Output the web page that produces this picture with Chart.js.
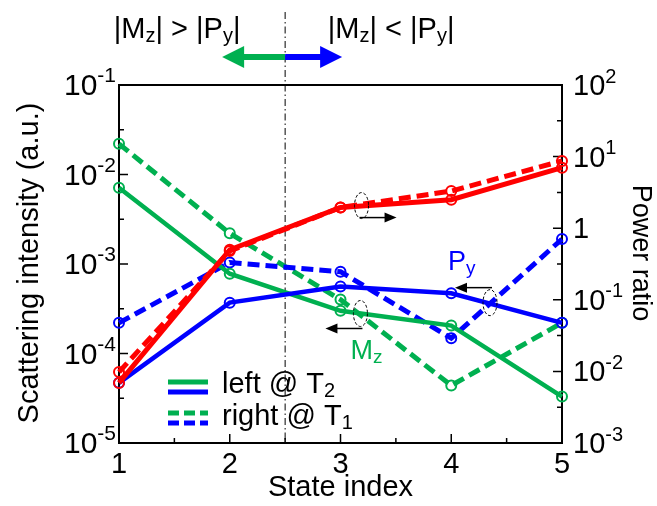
<!DOCTYPE html>
<html>
<head>
<meta charset="utf-8">
<script src="https://cdn.jsdelivr.net/npm/chart.js@4.4.1/dist/chart.umd.min.js"></script>
<style>
  html, body { margin: 0; padding: 0; background: #fff; }
  #chart { display: block; }
</style>
</head>
<body>
<canvas id="chart" width="657" height="506"></canvas>
<script>
// Datos
const stateIndex = [1, 2, 3, 4, 5];
// eje izquierdo: Scattering intensity (a.u.)
const mzLeft  = [7.1e-3, 7.8e-4, 3.0e-4, 2.05e-4, 3.3e-5];   // verde, línea continua (left @ T2)
const mzRight = [2.2e-2, 2.2e-3, 4.0e-4, 4.4e-5, 2.2e-4];    // verde, discontinua (right @ T1)
const pyLeft  = [4.7e-5, 3.7e-4, 5.6e-4, 4.7e-4, 2.2e-4];    // azul, continua
const pyRight = [2.2e-4, 1.04e-3, 8.2e-4, 1.48e-4, 1.9e-3];  // azul, discontinua
// eje derecho: Power ratio
const ratioLeft  = [6.9e-3, 0.5, 1.95, 2.5, 7.0];            // rojo, continua
const ratioRight = [9.8e-3, 0.48, 1.95, 3.3, 8.7];           // rojo, discontinua
// etiquetas de los ejes
const leftExps  = [-1, -2, -3, -4, -5];
const rightExps = [2, 1, 0, -1, -2, -3];
const xTicks = [1, 2, 3, 4, 5];

const FONT = '"Liberation Sans", Arial, sans-serif';
const GREEN = '#00b050';
const BLUE = '#0000ff';
const RED = '#ff0000';

function pts(arr) {
    return stateIndex.map((x, i) => ({ x: x, y: arr[i] }));
}

function series(arr, color, dashed, axis, width) {
    return {
        data: pts(arr),
        yAxisID: axis,
        borderColor: color,
        backgroundColor: 'rgba(0,0,0,0)',
        borderWidth: width,
        borderDash: dashed ? [12, 6] : [],
        pointRadius: 5,
        pointBorderWidth: 2,
        pointBorderColor: color,
        pointBackgroundColor: 'rgba(0,0,0,0)',
        tension: 0,
        clip: false
    };
}

// texto con subíndices / superíndices
function drawRich(ctx, parts, x, y, size, align, color) {
    const fontFor = mode => (mode ? Math.round(size * 0.7) : size) + 'px ' + FONT;
    let total = 0;
    parts.forEach(p => {
        ctx.font = fontFor(p[1]);
        total += ctx.measureText(p[0]).width;
    });
    let cx = x;
    if (align === 'center') cx = x - total / 2;
    if (align === 'right') cx = x - total;
    ctx.fillStyle = color || '#000';
    ctx.textAlign = 'left';
    ctx.textBaseline = 'alphabetic';
    parts.forEach(p => {
        ctx.font = fontFor(p[1]);
        let dy = 0;
        if (p[1] === 'sub') dy = size * 0.14;
        if (p[1] === 'sup') dy = -size * 0.43;
        ctx.fillText(p[0], cx, y + dy);
        cx += ctx.measureText(p[0]).width;
    });
}

function arrowHead(ctx, x1, y1, x2, y2, len, half) {
    const a = Math.atan2(y2 - y1, x2 - x1);
    ctx.beginPath();
    ctx.moveTo(x2, y2);
    ctx.lineTo(x2 - len * Math.cos(a) + half * Math.sin(a), y2 - len * Math.sin(a) - half * Math.cos(a));
    ctx.lineTo(x2 - len * Math.cos(a) - half * Math.sin(a), y2 - len * Math.sin(a) + half * Math.cos(a));
    ctx.closePath();
    ctx.fill();
}

// flecha negra + elipse discontinua (marcan a qué eje va cada curva)
function marker(ctx, cx, cy, dy, dir) {
    ctx.save();
    ctx.strokeStyle = '#000';
    ctx.lineWidth = 1;
    ctx.setLineDash([3, 2]);
    ctx.beginPath();
    ctx.ellipse(cx, cy, 7, 13, 0, 0, Math.PI * 2);
    ctx.stroke();
    ctx.setLineDash([]);
    ctx.lineWidth = 1.5;
    const x1 = cx - dir * 2, x2 = cx + dir * 35, y = cy + dy;
    ctx.beginPath();
    ctx.moveTo(x1, y);
    ctx.lineTo(x2 - dir * 8, y);
    ctx.stroke();
    ctx.fillStyle = '#000';
    arrowHead(ctx, x1, y, x2, y, 12, 5);
    ctx.restore();
}

const decor = {
    id: 'decor',
    beforeDatasetsDraw(chart) {
        const { ctx, chartArea: a, scales } = chart;
        const xs = scales.x, yl = scales.y, yr = scales.y2;
        ctx.save();
        // línea vertical punto-raya en x = 2.5
        const xd = xs.getPixelForValue(2.5);
        ctx.strokeStyle = '#000';
        ctx.lineWidth = 1;
        ctx.setLineDash([7, 3, 1.5, 3]);
        ctx.beginPath();
        ctx.moveTo(xd, 12);
        ctx.lineTo(xd, a.bottom);
        ctx.stroke();
        ctx.setLineDash([]);

        // marco
        ctx.lineWidth = 2;
        ctx.strokeRect(a.left, a.top, a.right - a.left, a.bottom - a.top);

        // marcas del eje izquierdo
        ctx.lineWidth = 1.5;
        ctx.beginPath();
        for (let e = -5; e <= -1; e++) {
            const y = yl.getPixelForValue(Math.pow(10, e));
            ctx.moveTo(a.left, y); ctx.lineTo(a.left + 9, y);
            if (e < -1) {
                const ym = yl.getPixelForValue(Math.pow(10, e + 0.5));
                ctx.moveTo(a.left, ym); ctx.lineTo(a.left + 5, ym);
            }
        }
        // eje derecho
        for (let e = -3; e <= 2; e++) {
            const y = yr.getPixelForValue(Math.pow(10, e));
            ctx.moveTo(a.right, y); ctx.lineTo(a.right - 9, y);
            if (e < 2) {
                const ym = yr.getPixelForValue(Math.pow(10, e + 0.5));
                ctx.moveTo(a.right, ym); ctx.lineTo(a.right - 5, ym);
            }
        }
        // eje x
        for (let v = 1; v <= 5; v += 0.5) {
            const x = xs.getPixelForValue(v);
            const len = Number.isInteger(v) ? 9 : 5;
            ctx.moveTo(x, a.bottom); ctx.lineTo(x, a.bottom - len);
        }
        ctx.stroke();
        ctx.restore();
    },
    afterDraw(chart) {
        const { ctx, chartArea: a, scales } = chart;
        const xs = scales.x, yl = scales.y, yr = scales.y2;
        ctx.save();

        // etiquetas del eje izquierdo
        leftExps.forEach(e => {
            const y = yl.getPixelForValue(Math.pow(10, e));
            drawRich(ctx, [['10', ''], [String(e), 'sup']], a.left - 3, y + 10, 30, 'right');
        });
        // etiquetas del eje derecho
        rightExps.forEach(e => {
            const y = yr.getPixelForValue(Math.pow(10, e));
            const parts = e === 0 ? [['1', '']] : [['10', ''], [String(e), 'sup']];
            drawRich(ctx, parts, a.right + 11, y + 10, 29, 'left');
        });
        // etiquetas del eje x
        ctx.font = '29px ' + FONT;
        ctx.fillStyle = '#000';
        ctx.textAlign = 'center';
        ctx.textBaseline = 'alphabetic';
        xTicks.forEach(v => ctx.fillText(String(v), xs.getPixelForValue(v), a.bottom + 30));
        ctx.font = '29px ' + FONT;
        ctx.fillText('State index', (a.left + a.right) / 2, 496);

        // títulos de los ejes y
        ctx.save();
        ctx.translate(30, 263);
        ctx.rotate(-Math.PI / 2);
        ctx.font = '29px ' + FONT;
        ctx.textBaseline = 'middle';
        ctx.fillText('Scattering intensity (a.u.)', 0, 0);
        ctx.restore();
        ctx.save();
        ctx.translate(640, 253);
        ctx.rotate(Math.PI / 2);
        ctx.font = '27px ' + FONT;
        ctx.textBaseline = 'middle';
        ctx.fillText('Power ratio', 0, 0);
        ctx.restore();

        // textos superiores y flechas de colores
        const xd = xs.getPixelForValue(2.5);
        drawRich(ctx, [['|M', ''], ['z', 'sub'], ['| > |P', ''], ['y', 'sub'], ['|', '']], xd - 108, 38, 29, 'center');
        drawRich(ctx, [['|M', ''], ['z', 'sub'], ['| < |P', ''], ['y', 'sub'], ['|', '']], xd + 106, 38, 29, 'center');
        const ya = 57;
        ctx.lineWidth = 6;
        ctx.strokeStyle = GREEN;
        ctx.beginPath(); ctx.moveTo(xd, ya); ctx.lineTo(xd - 45, ya); ctx.stroke();
        ctx.fillStyle = GREEN;
        arrowHead(ctx, xd, ya, xd - 63, ya, 22, 11);
        ctx.strokeStyle = BLUE;
        ctx.beginPath(); ctx.moveTo(xd, ya); ctx.lineTo(xd + 40, ya); ctx.stroke();
        ctx.fillStyle = BLUE;
        arrowHead(ctx, xd, ya, xd + 57, ya, 22, 11);

        // marcadores de eje
        marker(ctx, xs.getPixelForValue(3.19), yr.getPixelForValue(2.07), 12, 1);
        marker(ctx, xs.getPixelForValue(3.18), yl.getPixelForValue(2.8e-4), 15, -1);
        marker(ctx, xs.getPixelForValue(4.35), yl.getPixelForValue(3.7e-4), -15, -1);

        // etiquetas P_y y M_z
        drawRich(ctx, [['P', ''], ['y', 'sub']], xs.getPixelForValue(3.97), yl.getPixelForValue(8.5e-4), 27, 'left', BLUE);
        drawRich(ctx, [['M', ''], ['z', 'sub']], xs.getPixelForValue(3.09), yl.getPixelForValue(8.6e-5), 27, 'left', GREEN);

        // leyenda
        const lx1 = 168, lx2 = 208;
        const legendLine = (y, color, dashed) => {
            ctx.strokeStyle = color;
            ctx.lineWidth = 5;
            ctx.setLineDash(dashed ? [11, 5] : []);
            ctx.beginPath(); ctx.moveTo(lx1, y); ctx.lineTo(lx2, y); ctx.stroke();
        };
        legendLine(382, GREEN, false);
        legendLine(392, BLUE, false);
        legendLine(413, GREEN, true);
        legendLine(423, BLUE, true);
        ctx.setLineDash([]);
        drawRich(ctx, [['left @ T', ''], ['2', 'sub']], 222, 393, 29, 'left');
        drawRich(ctx, [['right @ T', ''], ['1', 'sub']], 222, 425, 29, 'left');

        ctx.restore();
    }
};

new Chart(document.getElementById('chart'), {
    type: 'line',
    data: {
        datasets: [
            series(ratioLeft, RED, false, 'y2', 5),
            series(ratioRight, RED, true, 'y2', 5),
            series(pyLeft, BLUE, false, 'y', 4.5),
            series(mzLeft, GREEN, false, 'y', 4.5),
            series(pyRight, BLUE, true, 'y', 5),
            series(mzRight, GREEN, true, 'y', 5)
        ]
    },
    options: {
        responsive: false,
        animation: false,
        devicePixelRatio: 1,
        layout: { padding: { left: 119, right: 95, top: 85, bottom: 63 } },
        plugins: { legend: { display: false }, tooltip: { enabled: false } },
        scales: {
            x: { type: 'linear', min: 1, max: 5, display: false },
            y: { type: 'logarithmic', min: 1e-5, max: 1e-1, display: false },
            y2: { type: 'logarithmic', min: 1e-3, max: 1e2, display: false }
        }
    },
    plugins: [decor]
});
</script>
</body>
</html>
